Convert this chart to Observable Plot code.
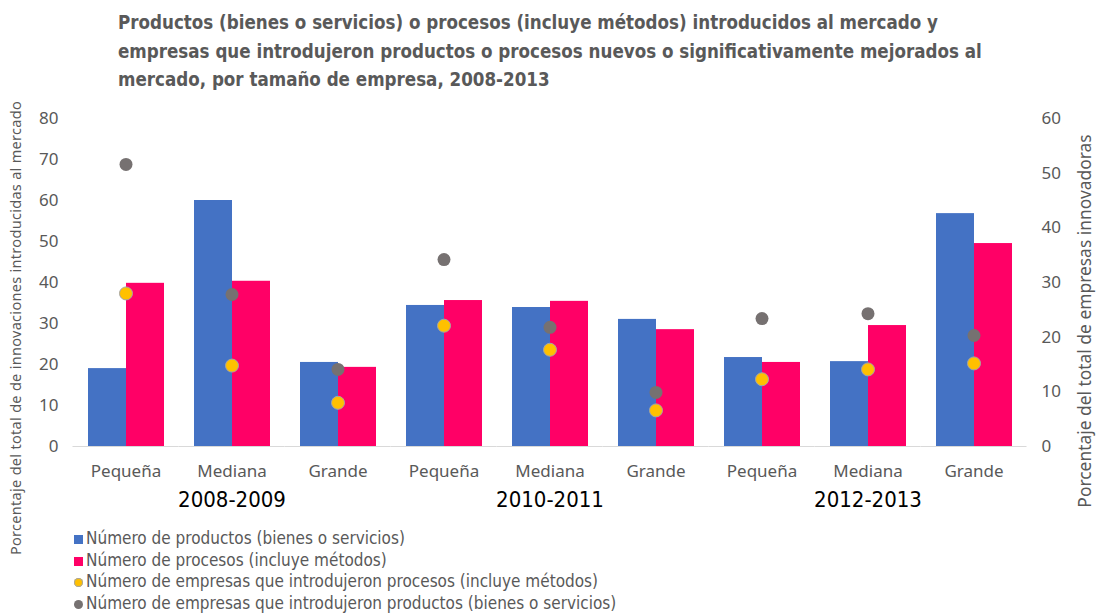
<!DOCTYPE html>
<html><head><meta charset="utf-8">
<script src="https://cdn.jsdelivr.net/npm/d3@7"></script>
<script src="https://cdn.jsdelivr.net/npm/@observablehq/plot@0.6"></script>
<style>
body{margin:0;background:#fff;}
#wrap{position:relative;width:1097px;height:613px;overflow:hidden;}
#title{height:100px;box-sizing:border-box;padding:9px 0 0 118px;font:bold 18.6px "DejaVu Sans Condensed",sans-serif;color:#595959;line-height:28.5px;}
.ytitle{position:absolute;white-space:nowrap;font-family:"Noto Sans",sans-serif;color:#595959;transform:translate(-50%,-50%) rotate(-90deg);line-height:1.2;}
#legend{position:absolute;left:74px;top:528px;font:17px "DejaVu Sans Condensed",sans-serif;color:#595959;}
#legend div{height:21.7px;line-height:21.7px;white-space:nowrap;}
#legend span.m{display:inline-block;width:9px;height:9px;margin-right:3px;vertical-align:0px;}
#legend span.c{border-radius:50%;}
</style></head>
<body><div id="wrap">
<div id="title">Productos (bienes o servicios) o procesos (incluye métodos) introducidos al mercado y<br>empresas que introdujeron productos o procesos nuevos o significativamente mejorados al<br>mercado, por tamaño de empresa, 2008-2013</div>
<div id="chart"></div>
<div class="ytitle" style="left:16px;top:328px;font-size:14.5px;letter-spacing:0.3px;">Porcentaje del total de de innovaciones introducidas al mercado</div>
<div class="ytitle" style="left:1084px;top:321px;font-size:17.4px;">Porcentaje del total de empresas innovadoras</div>
<div id="legend"></div>
</div>
<script>
const periods = ["2008-2009", "2010-2011", "2012-2013"];
const sizes = ["Pequeña", "Mediana", "Grande"];
const productos = [19.0, 60.0, 20.5, 34.4, 33.9, 31.0, 21.7, 20.7, 56.8];
const procesos = [39.8, 40.3, 19.3, 35.6, 35.4, 28.5, 20.5, 29.5, 49.5];
const empresasProcesos = [28.0, 14.8, 8.0, 22.1, 17.7, 6.6, 12.3, 14.1, 15.2];
const empresasProductos = [51.6, 27.8, 14.1, 34.2, 21.8, 9.9, 23.4, 24.3, 20.3];
const seriesNames = [
  "Número de productos (bienes o servicios)",
  "Número de procesos (incluye métodos)",
  "Número de empresas que introdujeron procesos (incluye métodos)",
  "Número de empresas que introdujeron productos (bienes o servicios)"
];
const leftTicks = [0, 10, 20, 30, 40, 50, 60, 70, 80];
const rightTicks = [0, 10, 20, 30, 40, 50, 60];

const colors = ["#4472C4", "#FF0066", "#FFC000", "#767171"];
const ratio = 80 / 60;
const keys = periods.flatMap(p => sizes.map(s => p + "|" + s));
const rows = keys.flatMap((k, i) => [
  {key: k, serie: "prod", value: productos[i]},
  {key: k, serie: "proc", value: procesos[i]}
]);
const dotRows = keys.map((k, i) => ({key: k, proc: empresasProcesos[i], prod: empresasProductos[i]}));

const tickFont = {fontFamily: "Noto Sans", fill: "#595959"};
const chart = Plot.plot({
  width: 1097, height: 513,
  marginTop: 18, marginBottom: 167, marginLeft: 84, marginRight: 81,
  style: {fontFamily: "Noto Sans", background: "#fff", overflow: "visible"},
  fx: {domain: keys, paddingInner: 0.27, paddingOuter: 0, label: null},
  x: {domain: ["prod", "proc"], padding: 0, axis: null},
  y: {domain: [0, 80], axis: null},
  color: {domain: ["prod", "proc"], range: [colors[0], colors[1]]},
  marks: [
    Plot.ruleY([0], {stroke: "#d9d9d9", strokeWidth: 1.2, insetLeft: -14.5, insetRight: -14.5}),
    Plot.barY(rows, {fx: "key", x: "serie", y: "value", fill: "serie"}),
    Plot.dot(dotRows, {fx: "key", y: d => d.prod * ratio, r: 6.5, fill: colors[3]}),
    Plot.dot(dotRows, {fx: "key", y: d => d.proc * ratio, r: 6.5, fill: colors[2], stroke: "#A5A5A5", strokeWidth: 1}),
    Plot.axisY({anchor: "left", ticks: leftTicks, tickSize: 0, tickPadding: 29, label: null, ...tickFont, fontSize: 17}),
    Plot.axisY({anchor: "right", ticks: rightTicks.map(v => v * ratio), tickFormat: v => String(Math.round(v / ratio)), tickSize: 0, tickPadding: 29, label: null, ...tickFont, fontSize: 17}),
    Plot.axisFx({anchor: "bottom", tickFormat: k => k.split("|")[1], tickSize: 0, tickPadding: 18, label: null, ...tickFont, fontSize: 17}),
    Plot.text(periods, {fx: p => p + "|Mediana", text: d => d, frameAnchor: "bottom", dy: 60, fontSize: 22, fontFamily: "DejaVu Sans Condensed, sans-serif", fill: "#000"})
  ]
});
document.getElementById("chart").appendChild(chart);

const legend = document.getElementById("legend");
seriesNames.forEach((name, i) => {
  const div = document.createElement("div");
  const m = document.createElement("span");
  m.className = i < 2 ? "m" : "m c";
  m.style.background = colors[i];
  if (i === 2) { m.style.boxShadow = "0 0 0 1px #A5A5A5 inset"; }
  div.appendChild(m);
  div.appendChild(document.createTextNode(name));
  legend.appendChild(div);
});
</script>
</body></html>
